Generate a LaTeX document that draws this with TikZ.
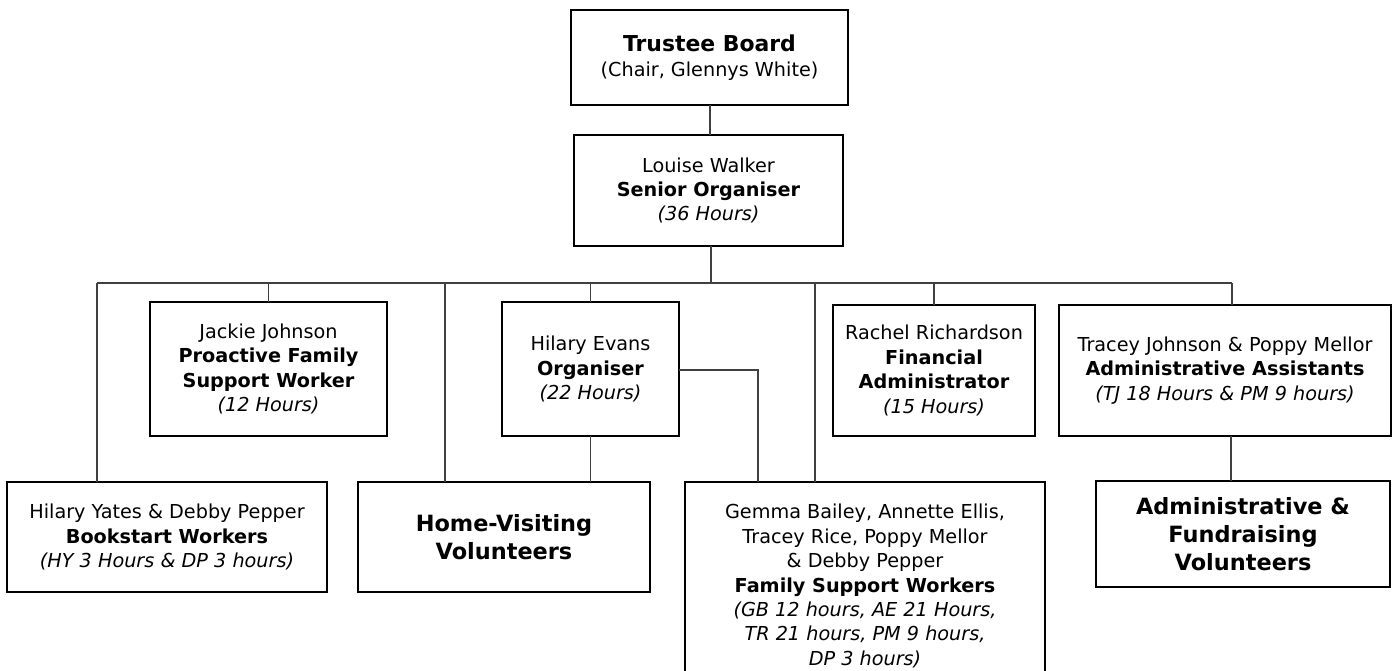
\documentclass[tikz,border=0pt]{standalone}
\usepackage{fontspec}
\setmainfont{DejaVu Sans}
\begin{document}
\begin{tikzpicture}[x=1bp,y=-1bp,
  box/.style={draw=black, line width=2bp, align=center, inner sep=0pt, outer sep=0pt,
    font=\fontsize{19.3}{24.5}\selectfont},
  conn/.style={draw=black!75, line width=1.3bp},
  big/.style={font=\fontsize{22.5}{27.8}\selectfont\bfseries}]
\clip (0,0) rectangle (1399,671);
\fill[white] (0,0) rectangle (1399,671);

\node[box, minimum width=277bp, minimum height=95bp] (trustee) at (709.5,57.5)
  {{\fontsize{22}{26}\selectfont\bfseries Trustee Board}\\(Chair, Glennys White)};
\node[box, minimum width=269bp, minimum height=111bp] (louise) at (708.5,190.5)
  {Louise Walker\\\textbf{Senior Organiser}\\\textit{(36 Hours)}};
\node[box, minimum width=237bp, minimum height=134bp] (jackie) at (268.5,369)
  {Jackie Johnson\\\textbf{Proactive Family}\\\textbf{Support Worker}\\\textit{(12 Hours)}};
\node[box, minimum width=177bp, minimum height=134bp] (hilary) at (590.5,369)
  {Hilary Evans\\\textbf{Organiser}\\\textit{(22 Hours)}};
\node[box, minimum width=202bp, minimum height=131bp] (rachel) at (934,370.5)
  {Rachel Richardson\\\textbf{Financial}\\\textbf{Administrator}\\\textit{(15 Hours)}};
\node[box, minimum width=332bp, minimum height=131bp] (tracey) at (1225,370.5)
  {Tracey Johnson \& Poppy Mellor\\\textbf{Administrative Assistants}\\\textit{(TJ 18 Hours \& PM 9 hours)}};
\node[box, minimum width=320bp, minimum height=110bp] (bookstart) at (167,537)
  {Hilary Yates \& Debby Pepper\\\textbf{Bookstart Workers}\\\textit{(HY 3 Hours \& DP 3 hours)}};
\node[box, big, minimum width=292bp, minimum height=110bp] (home) at (504,537)
  {Home-Visiting\\Volunteers};
\node[box, minimum width=360bp, minimum height=208bp] (gemma) at (865,586)
  {Gemma Bailey, Annette Ellis,\\Tracey Rice, Poppy Mellor\\\& Debby Pepper\\\textbf{Family Support Workers}\\
   \textit{(GB 12 hours, AE 21 Hours,}\\\textit{TR 21 hours, PM 9 hours,}\\\textit{DP 3 hours)}};
\node[box, big, minimum width=294bp, minimum height=106bp] (adminvol) at (1243,534)
  {Administrative \&\\Fundraising\\Volunteers};

\coordinate (topX) at (710,120);
\coordinate (busL) at (97,283);
\coordinate (busR) at (1232,283);
\coordinate (louiseX) at (711,283);
\coordinate (homeX) at (445,283);
\coordinate (gemmaX) at (815,283);
\coordinate (hilaryR) at (758,370);
\coordinate (adminX) at (1231,460);

\draw[conn] (topX |- trustee.south) -- (topX |- louise.north);
\draw[conn] (louiseX |- louise.south) -- (louiseX);
\draw[conn] (busL) -- (busR);
\draw[conn] (busL) -- (busL |- bookstart.north);
\draw[conn] (jackie.north |- busL) -- (jackie.north);
\draw[conn] (homeX) -- (homeX |- home.north);
\draw[conn] (hilary.north |- busL) -- (hilary.north);
\draw[conn] (gemmaX) -- (gemmaX |- gemma.north);
\draw[conn] (rachel.north |- busL) -- (rachel.north);
\draw[conn] (busR) -- (busR |- tracey.north);
\draw[conn] (adminX |- tracey.south) -- (adminX |- adminvol.north);
\draw[conn] (hilary.south) -- (hilary.south |- home.north);
\draw[conn] (hilary.east |- hilaryR) -- (hilaryR) -- (hilaryR |- gemma.north);
\end{tikzpicture}
\end{document}
